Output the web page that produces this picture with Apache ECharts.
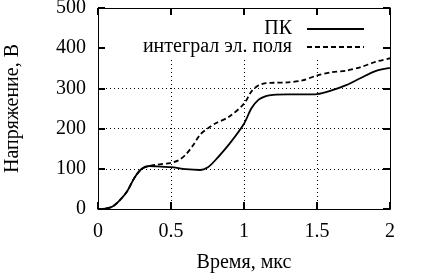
<!DOCTYPE html>
<html>
<head>
<meta charset="utf-8">
<script src="https://cdn.jsdelivr.net/npm/echarts@6/dist/echarts.min.js"></script>
<style>
  html, body { margin: 0; padding: 0; background: #fff; }
  #chart { width: 425px; height: 273px; }
</style>
</head>
<body>
<div id="chart"></div>
<script>
// ПК
const pkTime = [0, 0.05, 0.1, 0.15, 0.2, 0.25, 0.3, 0.35, 0.4, 0.5, 0.6, 0.7, 0.75, 0.8, 0.9, 1.0, 1.05, 1.1, 1.15, 1.2, 1.3, 1.4, 1.5, 1.6, 1.7, 1.8, 1.9, 2.0]
const pkVolt = [0, 1, 6, 22, 44, 78, 100, 107, 106, 104, 99, 97, 103, 120, 162, 212, 250, 272, 281, 284, 285, 285, 286, 295, 308, 326, 343, 351]
// интеграл эл. поля
const intTime = [0, 0.05, 0.1, 0.15, 0.2, 0.25, 0.3, 0.35, 0.4, 0.5, 0.55, 0.6, 0.65, 0.7, 0.75, 0.8, 0.9, 1.0, 1.05, 1.1, 1.15, 1.2, 1.3, 1.4, 1.5, 1.6, 1.7, 1.8, 1.9, 2.0]
const intVolt = [0, 1, 6, 22, 44, 78, 100, 107, 110, 115, 121, 135, 158, 185, 200, 212, 230, 262, 292, 308, 313, 314, 315, 320, 332, 340, 344, 353, 366, 375]

const seriesNames = ['ПК', 'интеграл эл. поля']
const FONT = 'Liberation Serif'

const chart = echarts.init(document.getElementById('chart'))

const tickStyle = { show: true, inside: true, length: 7, lineStyle: { color: '#000', width: 2 } }
const lineAxis = { show: true, onZero: false, lineStyle: { color: '#000', width: 1 } }

const option = {
  animation: false,
  backgroundColor: '#fff',
  grid: { left: 98, right: 35, top: 8, bottom: 64, outerBoundsMode: 'none', containLabel: false },
  legend: {
    orient: 'vertical',
    right: 36,
    top: 9,
    align: 'right',
    itemGap: -2,
    itemWidth: 57,
    itemHeight: 14,
    padding: [10, 24, 2, 60],
    backgroundColor: '#fff',
    itemStyle: { opacity: 0 },
    formatter: name => name + '  ',
    textStyle: { fontFamily: FONT, fontSize: 20, color: '#000' },
    data: seriesNames
  },
  xAxis: [
    {
      // dotted grid lines only
      type: 'value', min: 0, max: 2, interval: 0.5, position: 'bottom',
      axisLine: { show: false }, axisTick: { show: false }, axisLabel: { show: false },
      splitLine: { show: true, lineStyle: { color: '#000', width: 1, type: [1, 3] } },
      z: 0
    },
    {
      type: 'value', min: 0, max: 2, interval: 0.5, position: 'bottom',
      name: 'Время, мкс', nameLocation: 'middle', nameGap: 44,
      nameTextStyle: { fontFamily: FONT, fontSize: 20, color: '#000' },
      axisLine: lineAxis, axisTick: tickStyle,
      axisLabel: { fontFamily: FONT, fontSize: 20, color: '#000', margin: 13 },
      splitLine: { show: false },
      z: 5
    },
    {
      type: 'value', min: 0, max: 2, interval: 0.5, position: 'top',
      axisLine: lineAxis, axisTick: tickStyle, axisLabel: { show: false },
      splitLine: { show: false },
      z: 5
    }
  ],
  yAxis: [
    {
      type: 'value', min: 0, max: 500, interval: 100, position: 'left',
      axisLine: { show: false }, axisTick: { show: false }, axisLabel: { show: false },
      splitLine: { show: true, lineStyle: { color: '#000', width: 1, type: [1, 3] } },
      z: 0
    },
    {
      type: 'value', min: 0, max: 500, interval: 100, position: 'left',
      name: 'Напряжение, В', nameLocation: 'middle', nameGap: 75, nameRotate: 90,
      nameTextStyle: { fontFamily: FONT, fontSize: 20, color: '#000' },
      axisLine: lineAxis, axisTick: tickStyle,
      axisLabel: { fontFamily: FONT, fontSize: 20, color: '#000', margin: 12 },
      splitLine: { show: false },
      z: 5
    },
    {
      type: 'value', min: 0, max: 500, interval: 100, position: 'right',
      axisLine: lineAxis, axisTick: tickStyle, axisLabel: { show: false },
      splitLine: { show: false },
      z: 5
    }
  ],
  series: [
    {
      name: seriesNames[0],
      type: 'line',
      xAxisIndex: 1,
      yAxisIndex: 1,
      smooth: 0.3,
      symbol: 'none',
      z: 6,
      lineStyle: { color: '#000', width: 1.8, type: 'solid' },
      itemStyle: { color: '#000' },
      data: pkTime.map((t, i) => [t, pkVolt[i]])
    },
    {
      name: seriesNames[1],
      type: 'line',
      xAxisIndex: 1,
      yAxisIndex: 1,
      smooth: 0.3,
      symbol: 'none',
      z: 6,
      lineStyle: { color: '#000', width: 1.8, type: [5, 3] },
      itemStyle: { color: '#000' },
      data: intTime.map((t, i) => [t, intVolt[i]])
    }
  ]
}

chart.setOption(option)
</script>
</body>
</html>
